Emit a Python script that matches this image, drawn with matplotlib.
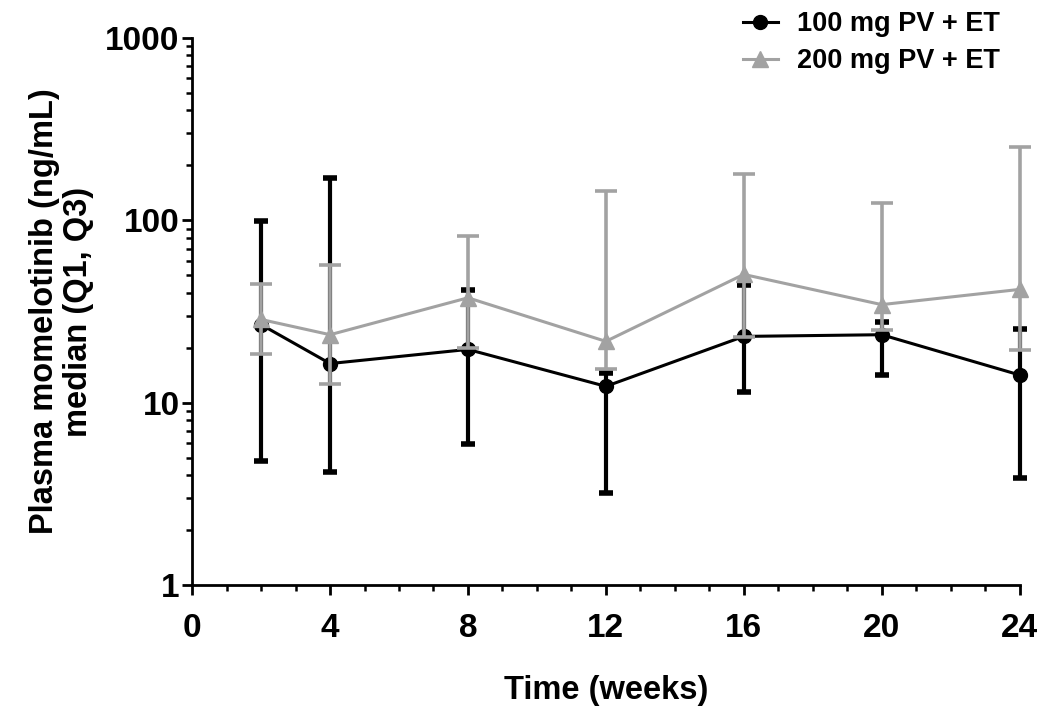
import matplotlib.pyplot as plt
from matplotlib.ticker import FixedLocator, LogLocator, NullFormatter

plt.rcParams['font.family'] = ['Liberation Sans', 'DejaVu Sans']
plt.rcParams['font.weight'] = 'bold'

# time points (weeks)
weeks = [2, 4, 8, 12, 16, 20, 24]

# 100 mg PV + ET: median, Q1, Q3
med_100 = [26.8, 16.4, 19.6, 12.3, 23.1, 23.6, 14.2]
q1_100 = [4.8, 4.2, 5.95, 3.2, 11.5, 14.2, 3.86]
q3_100 = [99, 170, 41.4, 14.6, 44.1, 27.6, 25.5]

# 200 mg PV + ET: median, Q1, Q3
med_200 = [28.6, 23.6, 37.6, 21.7, 50.5, 34.5, 41.8]
q1_200 = [18.5, 12.7, 20.0, 15.3, 23.0, 25.2, 19.4]
q3_200 = [44.5, 57, 82, 144, 179, 124, 251]

labels = ["100 mg PV + ET", "200 mg PV + ET"]
x_ticks = [0, 4, 8, 12, 16, 20, 24]
y_ticks = [1, 10, 100, 1000]

black = "#000000"
grey = "#a2a2a2"

fig = plt.figure(figsize=(10.5, 7.27), dpi=100)
ax = fig.add_axes([0.183, 0.195, 0.788, 0.753])

err_100 = [[m - lo for m, lo in zip(med_100, q1_100)],
           [hi - m for m, hi in zip(med_100, q3_100)]]
err_200 = [[m - lo for m, lo in zip(med_200, q1_200)],
           [hi - m for m, hi in zip(med_200, q3_200)]]

ax.errorbar(weeks, med_100, yerr=err_100, color=black, marker="o", markersize=10,
            linewidth=2.2, elinewidth=3.0, capsize=5, capthick=4,
            label=labels[0], zorder=3, clip_on=False)
ax.errorbar(weeks, med_200, yerr=err_200, color=grey, marker="^", markersize=12,
            linewidth=2.2, elinewidth=2.6, capsize=8, capthick=2.6,
            label=labels[1], zorder=4, clip_on=False)

ax.set_yscale("log")
ax.set_ylim(1, 1000)
ax.set_xlim(0, 24)

ax.xaxis.set_major_locator(FixedLocator(x_ticks))
ax.xaxis.set_minor_locator(FixedLocator(range(0, 25)))
ax.yaxis.set_major_locator(FixedLocator(y_ticks))
ax.yaxis.set_minor_locator(LogLocator(base=10, subs=range(2, 10)))
ax.yaxis.set_minor_formatter(NullFormatter())
ax.set_yticklabels([str(v) for v in y_ticks])

for s in ["top", "right"]:
    ax.spines[s].set_visible(False)
for s in ["left", "bottom"]:
    ax.spines[s].set_linewidth(2.0)

ax.tick_params(which="major", length=7, width=2.0, labelsize=24)
ax.tick_params(axis="x", which="major", pad=13)
ax.tick_params(axis="y", which="major", pad=2)
ax.tick_params(which="minor", length=4, width=1.8)
for lab in ax.get_xticklabels() + ax.get_yticklabels():
    lab.set_fontweight("bold")

ax.set_xlabel("Time (weeks)", fontsize=23.5, fontweight="bold", labelpad=22)
ax.set_ylabel("Plasma momelotinib (ng/mL)\nmedian (Q1, Q3)", fontsize=23.5,
              fontweight="bold", labelpad=8, linespacing=1.15)

handles, labs = ax.get_legend_handles_labels()
handles = [h[0] for h in handles]
fig.legend(handles, labs, loc="upper left", bbox_to_anchor=(0.684, 1.018),
           frameon=False, prop={"size": 19.5, "weight": "bold"},
           handlelength=1.3, handletextpad=0.7, labelspacing=0.4)

fig.savefig("out.png", dpi=100)
